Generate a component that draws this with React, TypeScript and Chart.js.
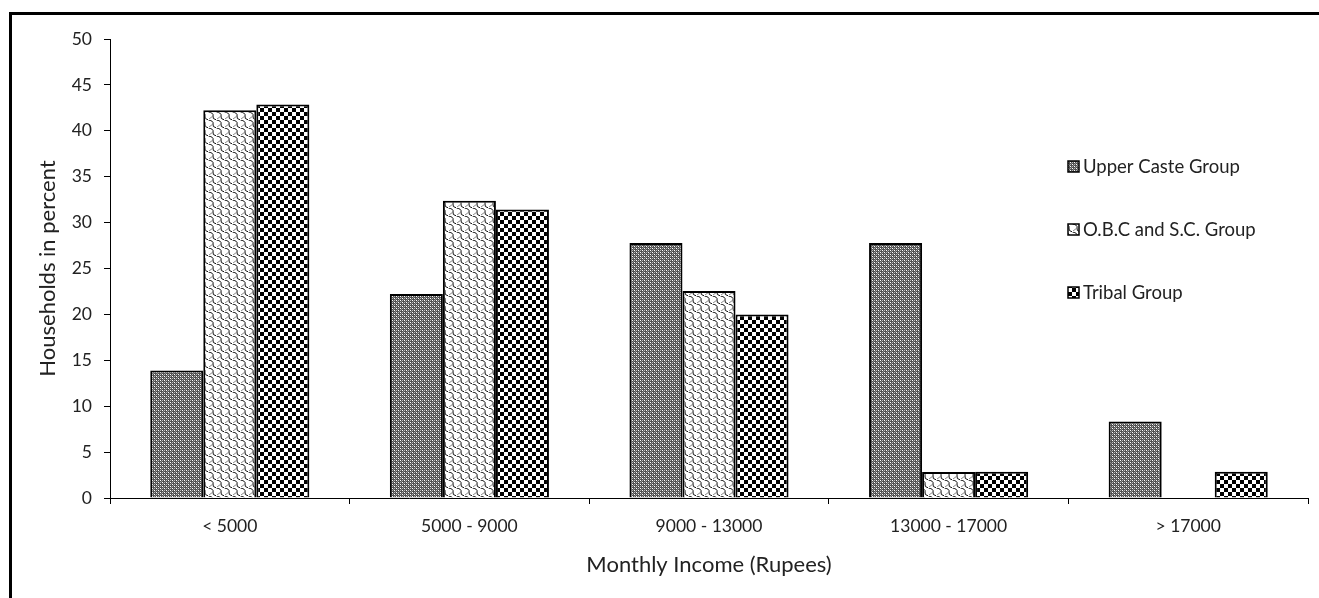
import React, { useEffect, useRef } from 'react';
import { Chart, registerables } from 'chart.js';

Chart.register(...registerables);

const categories = ['< 5000', '5000 - 9000', '9000 - 13000', '13000 - 17000', '> 17000'];
const seriesNames = ['Upper Caste Group', 'O.B.C and S.C. Group', 'Tribal Group'];
const upperCaste = [13.89, 22.22, 27.78, 27.78, 8.33];
const obcSc = [42.25, 32.39, 22.54, 2.82, 0];
const tribal = [42.86, 31.43, 20.0, 2.86, 2.86];
const yMin = 0;
const yMax = 50;
const yStep = 5;
const xTitle = 'Monthly Income (Rupees)';
const yTitle = 'Households in percent';

const FONT = 'Lato, "Open Sans", sans-serif';

function makeTile(size: number, draw: (c: CanvasRenderingContext2D) => void): CanvasPattern {
  const cv = document.createElement('canvas');
  cv.width = size;
  cv.height = size;
  const c = cv.getContext('2d')!;
  draw(c);
  const ctx = document.createElement('canvas').getContext('2d')!;
  return ctx.createPattern(cv, 'repeat')!;
}

function upperPattern() {
  return makeTile(4, (c) => {
    c.fillStyle = '#505050';
    c.fillRect(0, 0, 4, 4);
    c.fillStyle = '#fff';
    c.fillRect(0, 0, 1, 1);
    c.fillRect(2, 2, 1, 1);
    c.fillStyle = '#b8b8b8';
    c.fillRect(2, 0, 1, 1);
    c.fillRect(0, 2, 1, 1);
    c.fillStyle = '#888';
    c.fillRect(1, 1, 1, 1);
    c.fillRect(3, 3, 1, 1);
  });
}

function obcPattern() {
  return makeTile(8, (c) => {
    c.fillStyle = '#fff';
    c.fillRect(0, 0, 8, 8);
    c.lineWidth = 1;
    c.strokeStyle = '#111';
    c.beginPath();
    c.moveTo(0.5, 0);
    c.quadraticCurveTo(6, 1, 5, 4);
    c.quadraticCurveTo(4, 7, 8.5, 8);
    c.stroke();
    c.strokeStyle = '#888';
    c.beginPath();
    c.moveTo(5, 4);
    c.lineTo(1, 7);
    c.stroke();
  });
}

function tribalPattern() {
  return makeTile(8, (c) => {
    c.fillStyle = '#fff';
    c.fillRect(0, 0, 8, 8);
    c.fillStyle = '#000';
    c.fillRect(0, 0, 4, 4);
    c.fillRect(4, 4, 4, 4);
  });
}

export default function App() {
  const ref = useRef<HTMLCanvasElement>(null);

  useEffect(() => {
    if (!ref.current) return;
    const patterns = [upperPattern(), obcPattern(), tribalPattern()];
    const seriesValues = [upperCaste, obcSc, tribal];

    const legendPlugin = {
      id: 'sideLegend',
      afterDraw(chart: any) {
        const ctx = chart.ctx as CanvasRenderingContext2D;
        const area = chart.chartArea;
        const x0 = area.left + 958;
        const y0 = area.top + 127;
        ctx.save();
        seriesNames.forEach((name, i) => {
          const y = y0 + i * 63;
          ctx.fillStyle = patterns[i];
          ctx.fillRect(x0, y - 5, 11, 11);
          ctx.strokeStyle = '#000';
          ctx.lineWidth = 1.5;
          ctx.strokeRect(x0, y - 5, 11, 11);
          ctx.fillStyle = '#222';
          ctx.font = `18.5px ${FONT}`;
          ctx.textBaseline = 'middle';
          ctx.textAlign = 'left';
          ctx.fillText(name, x0 + 15, y + 1);
        });
        ctx.restore();
      },
    };

    const chart = new Chart(ref.current, {
      type: 'bar',
      data: {
        labels: categories,
        datasets: seriesNames.map((name, i) => ({
          label: name,
          data: seriesValues[i],
          backgroundColor: patterns[i] as any,
          borderColor: '#000',
          borderWidth: 2,
          categoryPercentage: 0.664,
          barPercentage: 1,
        })),
      },
      options: {
        animation: false,
        responsive: false,
        maintainAspectRatio: false,
        layout: { padding: { left: 12, right: 11, top: 39, bottom: 0 } },
        plugins: {
          legend: { display: false },
          tooltip: { enabled: false },
        },
        scales: {
          x: {
            afterFit: (s: any) => { s.height = 100; },
            grid: { display: true, drawOnChartArea: false, drawTicks: true, tickLength: 6, color: '#000', offset: true },
            border: { display: true, color: '#000', width: 1 },
            ticks: { color: '#222', font: { family: FONT, size: 17.5 }, padding: 12 },
            title: { display: true, text: xTitle, color: '#222', font: { family: FONT, size: 22 }, padding: { top: 0, bottom: 20 } },
          },
          y: {
            min: yMin,
            max: yMax,
            afterFit: (s: any) => { s.width = 98; },
            grid: { display: true, drawOnChartArea: false, drawTicks: true, tickLength: 6, color: '#000' },
            border: { display: true, color: '#000', width: 1 },
            ticks: { stepSize: yStep, color: '#222', font: { family: FONT, size: 17.5 }, padding: 12 },
            title: { display: true, text: yTitle, color: '#222', font: { family: FONT, size: 22 }, padding: { top: 23, bottom: 0 } },
          },
        },
      },
      plugins: [legendPlugin],
    });
    return () => chart.destroy();
  }, []);

  return (
    <div style={{ position: 'fixed', left: 0, top: 0, width: 1319, height: 598, background: '#fff', overflow: 'hidden' }}>
      <canvas ref={ref} width={1319} height={598} style={{ position: 'absolute', left: 0, top: 0, width: 1319, height: 598 }} />
      <div style={{ position: 'absolute', left: 9, top: 12, width: 2000, height: 2000, borderTop: '3px solid #000', borderLeft: '3px solid #000', pointerEvents: 'none' }} />
    </div>
  );
}
